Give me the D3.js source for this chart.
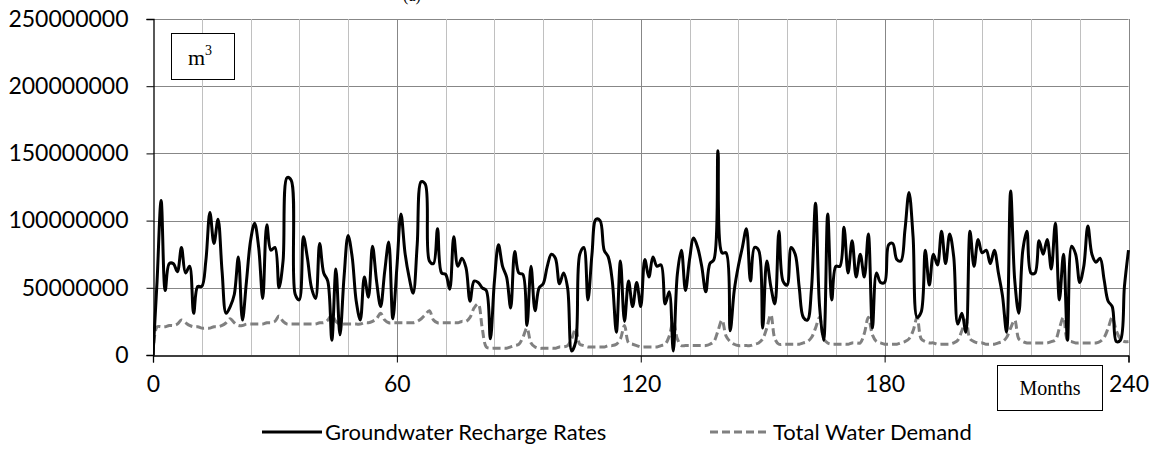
<!DOCTYPE html>
<html><head><meta charset="utf-8">
<script src="https://cdn.jsdelivr.net/npm/d3@7"></script>
<style>html,body{margin:0;padding:0;background:#fff;} svg{display:block;}</style>
</head><body><svg id="c" width="1160" height="451"></svg>
<script>
// Monthly values, in million m3 (month 0..240)
const rechargeMillions = [
  0,55,115,48,68,68,62,80,61,66,31,51,
  51,70,106,83,101,62,31,36,45,73,26,55,
  85,98,80,42,97,78,80,50,70,132,130,45,
  41,88,72,50,42,83,61,55,11,64,15,58,
  89,73,40,26,58,43,81,55,36,62,84,27,
  65,105,76,58,46,82,129,127,70,68,94,61,
  60,49,88,66,72,65,40,55,54,50,48,12,
  55,82,66,58,35,77,61,60,22,66,33,50,
  53,66,75,72,53,61,50,3,10,75,80,41,
  75,101,100,78,73,55,17,70,25,55,36,54,
  36,71,58,73,66,67,38,47,3,60,78,48,
  71,87,80,66,47,68,71,152,76,76,18,48,
  66,80,94,55,80,78,20,70,51,38,92,55,
  52,80,75,50,28,26,49,113,36,11,105,41,
  66,66,95,61,85,58,75,58,90,20,61,54,
  54,82,83,71,70,93,121,88,28,32,78,52,
  75,67,92,68,90,73,23,31,17,92,66,86,
  76,78,68,78,61,44,17,122,56,31,78,92,
  61,61,85,75,86,64,98,41,75,11,81,75,
  54,66,96,75,69,72,56,40,36,10,11,51,
  78
];
const demandMillions = [
  0,21,21,21,22,22,23,26,24,22,21,21,
  20,20,20,21,21,22,24,27,24,22,22,23,
  23,23,23,23,24,24,25,29,25,23,23,23,
  23,23,23,23,23,24,24,26,30,25,23,23,
  23,23,23,23,24,24,25,27,31,26,24,24,
  24,24,24,24,24,25,27,30,33,26,24,24,
  24,24,24,24,25,25,28,35,38,20,6,5,
  5,5,5,5,6,7,8,13,20,9,6,5,
  5,5,5,5,6,6,7,12,20,8,7,6,
  6,6,6,6,7,7,8,12,22,9,8,7,
  6,6,6,6,6,7,8,14,25,12,7,7,
  7,7,7,7,7,8,10,18,26,14,10,8,
  7,7,7,7,8,9,12,20,30,12,8,8,
  8,8,8,8,9,10,13,20,28,12,9,8,
  8,8,8,8,9,9,9,16,28,15,10,9,
  8,8,8,8,9,10,12,18,28,12,10,9,
  9,8,8,8,8,9,11,18,26,12,10,9,
  9,8,8,8,9,10,13,20,26,12,10,9,
  9,9,9,9,9,10,11,20,28,11,10,9,
  9,9,9,9,9,10,13,20,28,18,12,10,
  10
];
const xTickValues = [0, 60, 120, 180, 240];
const xGridValues = [12,24,36,48,60,72,84,96,108,120,132,144,156,168,180,192,204,216,228,240];
const yTickValues = [0, 50000000, 100000000, 150000000, 200000000, 250000000];
const seriesNames = ["Groundwater Recharge Rates", "Total Water Demand"];
const unitLabel = "m";
const unitSup = "3";
const xAxisLabel = "Months";
const panelLabel = "(a)";

const svg = d3.select("#c");
const x0 = 153, x1 = 1128.5, yTop = 19, yBot = 355;
const x = d3.scaleLinear().domain([0, 240]).range([x0, x1]);
const y = d3.scaleLinear().domain([0, 250000000]).range([yBot, yTop]);
const tickFont = "Lato, 'Liberation Sans', sans-serif";

svg.append("text").attr("x", 412).attr("y", 1).attr("text-anchor", "middle")
  .attr("font-family", "'Liberation Serif', serif").attr("font-size", 16).attr("fill", "#000").text(panelLabel);

// gridlines
const grid = svg.append("g");
grid.selectAll("line.h").data(yTickValues.filter(d => d > 0)).join("line")
  .attr("x1", x0).attr("x2", x1).attr("y1", d => Math.round(y(d)) + 0.5).attr("y2", d => Math.round(y(d)) + 0.5)
  .attr("stroke", "#878787").attr("stroke-width", 1);
grid.selectAll("line.v").data(xGridValues).join("line")
  .attr("x1", d => Math.round(x(d)) + 0.5).attr("x2", d => Math.round(x(d)) + 0.5)
  .attr("y1", yTop).attr("y2", yBot)
  .attr("stroke", d => d % 60 === 0 ? "#878787" : "#c0c0c0").attr("stroke-width", 1);

// clip
svg.append("clipPath").attr("id", "clip").append("rect")
  .attr("x", x0).attr("y", yTop - 5).attr("width", x1 - x0 + 3).attr("height", yBot - yTop + 5);

const line = d3.line().x((d, i) => x(i)).y(d => y(d * 1e6)).curve(d3.curveCatmullRom.alpha(0.5));

svg.append("path").datum(demandMillions).attr("clip-path", "url(#clip)")
  .attr("d", line).attr("fill", "none").attr("stroke", "#808080").attr("stroke-width", 3)
  .attr("stroke-dasharray", "8,4");
svg.append("path").datum(rechargeMillions).attr("clip-path", "url(#clip)")
  .attr("d", line).attr("fill", "none").attr("stroke", "#000").attr("stroke-width", 3)
  .attr("stroke-linejoin", "round");

// axes
const yAxis = d3.axisLeft(y).tickValues(yTickValues).tickSize(7).tickPadding(18).tickFormat(d3.format("d"));
const gy = svg.append("g").attr("transform", `translate(${x0 + 0.5},0)`).call(yAxis);
gy.select(".domain").attr("stroke", "#000").attr("stroke-width", 1.3);
gy.selectAll(".tick line").attr("stroke", "#000");
gy.selectAll("text").attr("font-family", tickFont).attr("font-size", 23).attr("fill", "#000");

const xAxis = d3.axisBottom(x).tickValues(xTickValues).tickSize(7).tickPadding(13).tickFormat(d3.format("d"));
const gx = svg.append("g").attr("transform", `translate(0,${yBot + 0.5})`).call(xAxis);
gx.select(".domain").attr("stroke", "#000").attr("stroke-width", 1.3);
gx.selectAll(".tick line").attr("stroke", "#000");
gx.selectAll("text").attr("font-family", tickFont).attr("font-size", 23).attr("fill", "#000");

// unit box
svg.append("rect").attr("x", 171.5).attr("y", 33.5).attr("width", 63).attr("height", 46)
  .attr("fill", "#fff").attr("stroke", "#000").attr("stroke-width", 1);
const ut = svg.append("text").attr("x", 200).attr("y", 65).attr("text-anchor", "middle")
  .attr("font-family", "'Liberation Serif', serif").attr("font-size", 22).attr("fill", "#000");
ut.append("tspan").text(unitLabel);
ut.append("tspan").attr("font-size", 14).attr("dy", -10).text(unitSup);

// months box
svg.append("rect").attr("x", 997.5).attr("y", 365.5).attr("width", 105).attr("height", 45)
  .attr("fill", "#fff").attr("stroke", "#000").attr("stroke-width", 1);
svg.append("text").attr("x", 1050).attr("y", 395).attr("text-anchor", "middle")
  .attr("font-family", "'Liberation Serif', serif").attr("font-size", 20).attr("fill", "#000").text(xAxisLabel);

// legend
const legend = svg.append("g");
const legItems = [
  {name: seriesNames[0], x: 262, color: "#000", dash: null},
  {name: seriesNames[1], x: 710, color: "#808080", dash: "8,4"}
];
legItems.forEach(it => {
  legend.append("line").attr("x1", it.x).attr("x2", it.x + 60).attr("y1", 432).attr("y2", 432)
    .attr("stroke", it.color).attr("stroke-width", 3).attr("stroke-dasharray", it.dash);
  legend.append("text").attr("x", it.x + 63).attr("y", 440).attr("font-family", tickFont)
    .attr("font-size", 22).attr("fill", "#000").text(it.name);
});
</script></body></html>
